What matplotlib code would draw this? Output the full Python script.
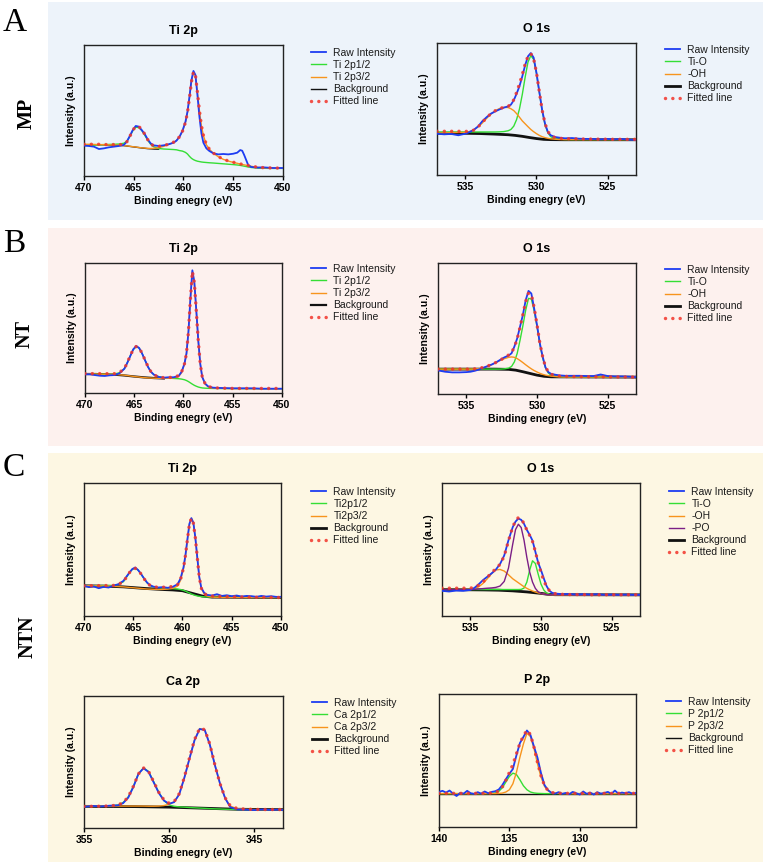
import matplotlib
matplotlib.use("Agg")
import matplotlib.pyplot as plt
from matplotlib.patches import Rectangle

# ---------------- data (binding energy in eV, intensity in a.u.) ----------------
ti_be_a = [470, 469.5, 469, 468.5, 468, 467.5, 467, 466.5, 466,
           465.7, 465.4, 465.1, 464.8, 464.5, 464.2, 463.9, 463.6, 463.3, 463,
           462.5, 462, 461.5, 461,
           460.7, 460.4, 460.1, 459.8, 459.6, 459.4, 459.2, 459.0, 458.8, 458.6, 458.4, 458.2, 458.0,
           457.7, 457.4, 457, 456.5, 456, 455.5, 455,
           454.6, 454.3, 454.1, 453.9, 453.7, 453.5, 453.2,
           452.5, 452, 451, 450]
mp_ti_raw = [23.2, 22.9, 22.4, 20.6, 21.1, 21.9, 22.4, 22.9, 23.7,
             26.2, 30.5, 35.1, 38.2, 37.7, 35.1, 32.1, 28.0, 24.9, 23.4,
             22.9, 23.4, 24.2, 25.4,
             27.0, 30.0, 34.6, 41.5, 49.1, 60.6, 73.3, 80.2, 77.1, 61.8, 45.3, 32.6, 25.4,
             21.1, 19.1, 17.3, 16.5, 16.8, 16.5, 17.0,
             17.8, 19.8, 19.3, 16.0, 12.2, 8.4, 6.9,
             6.4, 6.6, 6.1, 6.1]
mp_ti_fit = [24.2, 24.2, 24.2, 24.2, 24.0, 24.0, 24.0, 23.9, 24.2,
             26.0, 30.0, 35.0, 37.7, 37.9, 35.5, 32.0, 27.8, 24.5, 23.0,
             22.6, 23.2, 24.3, 25.8,
             27.3, 30.0, 34.2, 41.0, 48.5, 59.5, 72.0, 79.5, 77.0, 64.0, 50.0, 38.5, 31.0,
             24.0, 20.5, 17.5, 14.8, 12.8, 11.5, 10.5,
             9.8, 9.2, 8.9, 8.6, 8.3, 8.0, 7.5,
             6.7, 6.4, 6.1, 6.0]
mp_ti_p12 = [23.2, 23.4, 23.6, 23.8, 24.0, 24.1, 24.2, 24.4, 25.0,
             26.5, 30.0, 34.5, 37.2, 37.0, 34.8, 31.2, 27.3, 24.2, 22.3,
             21.0, 20.6, 20.4, 20.2,
             20.0, 19.4, 19.0, 18.0, 16.8, 15.0, 13.5, 12.5, 11.8, 11.3, 11.0, 10.7, 10.5,
             10.3, 10.1, 9.9, 9.6, 9.3, 9.0, 8.7,
             8.4, 8.1, 7.8, 7.5, 7.2, 6.9, 6.5,
             6.0, 5.9, 5.8, 5.8]
mp_ti_p32 = [24.2, 24.2, 24.1, 24.0, 23.9, 23.8, 23.7, 23.5, 23.2,
             23.0, 22.7, 22.4, 22.1, 21.8, 21.5, 21.3, 21.1, 21.0, 21.1,
             21.6, 22.6, 24.0, 25.6,
             27.2, 29.9, 34.1, 40.9, 48.4, 59.4, 71.9, 79.4, 76.9, 63.9, 49.9, 38.4, 30.9,
             23.9, 20.4, 17.4, 14.7, 12.7, 11.4, 10.4,
             9.7, 9.1, 8.8, 8.5, 8.2, 7.9, 7.4,
             6.6, 6.3, 6.0, 5.9]
mp_ti_bg_be = [470, 469, 468, 467, 466, 465.4, 464.8, 464.2, 463.6, 463, 462.5]
mp_ti_bg = [23.9, 23.9, 23.8, 23.6, 23.2, 22.6, 22.0, 21.4, 20.9, 20.6, 20.5]

o_be = [537, 536.5, 536, 535.5, 535,
        534.7, 534.4, 534.1, 533.8, 533.5, 533.2, 532.9, 532.6, 532.3, 532.0,
        531.8, 531.6, 531.4, 531.2, 531.0, 530.8, 530.6, 530.4, 530.2, 530.0, 529.8, 529.6, 529.4, 529.2, 529.0,
        528.7, 528.4,
        528, 527.5, 527, 526.5, 526, 525.5, 525, 524.5, 524, 523.5, 523]
mp_o_raw = [31.3, 30.8, 31.1, 30.1, 31.3,
            32.6, 34.3, 36.9, 40.9, 43.9, 46.5, 48.2, 49.7, 51.0, 52.0,
            53.3, 56.6, 61.6, 67.2, 74.7, 83.1, 89.9, 92.4, 88.9, 77.3, 62.9, 49.0, 38.9, 32.6, 30.1,
            28.8, 28.3,
            27.8, 28.0, 27.5, 27.3, 27.3, 27.0, 27.3, 27.0, 27.3, 26.8, 26.5]
mp_o_fit = [33.1, 33.1, 33.1, 33.1, 33.0,
            33.2, 34.0, 36.5, 40.0, 43.5, 46.5, 48.7, 50.3, 51.3, 52.0,
            53.5, 57.0, 62.5, 69.0, 76.0, 84.0, 90.0, 92.0, 88.0, 77.5, 63.0, 49.0, 39.0, 33.0, 30.0,
            28.3, 27.8,
            27.5, 27.4, 27.3, 27.2, 27.2, 27.1, 27.1, 27.0, 27.0, 27.0, 27.0]
mp_o_tio = [32.6, 32.6, 32.6, 32.6, 32.6,
            32.6, 32.6, 32.6, 32.6, 32.6, 32.6, 32.6, 32.7, 32.9, 33.5,
            34.5, 37.0, 42.0, 50.0, 61.0, 74.0, 85.5, 90.5, 87.5, 77.0, 62.5, 48.5, 38.0, 32.0, 29.0,
            27.6, 27.1,
            26.9, 26.8, 26.8, 26.8, 26.8, 26.8, 26.8, 26.8, 26.8, 26.8, 26.8]
mp_o_oh = [31.8, 31.9, 32.1, 32.2, 32.3,
           33.0, 34.3, 36.5, 39.5, 43.0, 46.2, 48.7, 50.4, 51.3, 51.1,
           50.2, 48.8, 46.5, 43.8, 41.0, 38.8, 36.6, 34.5, 32.8, 31.3, 30.0, 29.0, 28.3, 27.8, 27.4,
           27.1, 26.9,
           26.8, 26.8, 26.8, 26.8, 26.8, 26.8, 26.8, 26.8, 26.8, 26.8, 26.8]
mp_o_bg_be = [537, 535, 534, 533, 532, 531.5, 531, 530.5, 530, 529.5, 529, 528, 523]
mp_o_bg = [31.6, 31.6, 31.4, 31.0, 30.5, 30.0, 29.3, 28.4, 27.6, 27.0, 26.8, 26.7, 26.7]

ti_be_b = [470, 469.5, 469, 468.5, 468, 467.5, 467, 466.5, 466,
           465.7, 465.4, 465.1, 464.8, 464.5, 464.2, 463.9, 463.6, 463.3, 463,
           462.5, 462, 461.5, 461, 460.5,
           460.2, 459.9, 459.7, 459.5, 459.3, 459.1, 458.9, 458.7, 458.5, 458.3, 458.1,
           457.8, 457.5, 457,
           456, 455, 454, 453, 452, 451, 450]
nt_ti_raw = [14.4, 14.4, 13.8, 13.3, 13.1, 13.6, 13.8, 15.1, 18.7,
             23.3, 28.5, 33.6, 36.2, 34.6, 30.3, 25.1, 20.0, 16.2, 14.1,
             12.3, 11.8, 12.1, 12.1, 13.1,
             16.2, 22.6, 30.3, 46.9, 72.6, 94.4, 85.4, 63.6, 40.5, 22.6, 12.3,
             7.2, 5.1, 4.1,
             3.8, 3.6, 3.6, 3.6, 3.3, 3.3, 3.3]
nt_ti_fit = [14.9, 14.9, 14.9, 14.9, 14.9, 14.8, 14.9, 15.8, 18.8,
             23.5, 28.8, 33.6, 35.8, 34.6, 30.5, 25.3, 20.2, 16.3, 13.9,
             12.2, 11.8, 11.9, 12.2, 13.3,
             16.0, 22.5, 30.5, 47.0, 72.0, 93.5, 85.0, 63.0, 40.0, 22.5, 12.5,
             7.0, 5.0, 4.0,
             3.7, 3.5, 3.5, 3.5, 3.5, 3.5, 3.5]
nt_ti_p12 = [14.4, 14.4, 14.4, 14.4, 14.4, 14.4, 14.6, 15.6, 18.7,
             23.4, 28.7, 33.5, 35.7, 34.5, 30.4, 25.2, 20.1, 16.3, 14.0,
             12.5, 11.8, 11.4, 11.2, 11.0,
             10.7, 10.2, 9.6, 8.8, 7.8, 6.8, 5.9, 5.2, 4.6, 4.2, 3.9,
             3.7, 3.6, 3.5,
             3.4, 3.4, 3.4, 3.3, 3.3, 3.3, 3.3]
nt_ti_p32 = [14.6, 14.6, 14.6, 14.5, 14.5, 14.4, 14.3, 14.0, 13.7,
             13.4, 13.1, 12.8, 12.5, 12.3, 12.0, 11.8, 11.6, 11.5, 11.4,
             11.3, 11.3, 11.4, 11.6, 12.6,
             15.5, 22.2, 30.2, 46.8, 71.8, 93.3, 84.8, 62.8, 39.8, 22.3, 12.3,
             6.8, 4.8, 3.8,
             3.6, 3.4, 3.4, 3.4, 3.3, 3.3, 3.3]
nt_ti_bg_be = [470, 469, 468, 467, 466, 465, 464, 463, 462]
nt_ti_bg = [14.6, 14.6, 14.4, 14.1, 13.5, 12.7, 12.0, 11.5, 11.2]

nt_o_raw = [18.0, 17.0, 16.5, 16.5, 16.7,
            17.0, 17.7, 18.7, 20.0, 21.3, 22.5, 24.1, 26.1, 28.0, 29.4,
            31.1, 36.2, 42.5, 51.4, 60.3, 71.6, 78.7, 76.7, 65.3, 52.7, 38.7, 28.6, 20.3, 16.7, 15.4,
            14.7, 14.2,
            13.9, 13.9, 13.9, 13.7, 13.7, 14.9, 13.7, 13.4, 13.4, 13.2, 12.9]
nt_o_fit = [19.0, 19.0, 19.0, 19.0, 19.0,
            19.0, 19.2, 19.6, 20.3, 21.3, 22.6, 24.1, 25.8, 27.8, 29.8,
            31.5, 36.0, 42.0, 51.0, 60.5, 70.5, 77.0, 76.0, 66.0, 53.0, 39.0, 28.5, 20.8, 16.8, 15.0,
            14.2, 13.7,
            13.4, 13.3, 13.2, 13.2, 13.1, 13.1, 13.0, 13.0, 13.0, 12.9, 12.9]
nt_o_tio = [19.0, 19.0, 19.0, 19.0, 19.0,
            19.0, 19.0, 19.0, 19.0, 19.0, 19.0, 19.0, 19.0, 19.2, 19.8,
            21.0, 24.5, 31.0, 41.0, 52.0, 64.0, 73.0, 72.5, 63.5, 51.5, 38.0, 27.5, 20.0, 16.0, 14.3,
            13.5, 13.2,
            13.1, 13.0, 13.0, 13.0, 13.0, 13.0, 13.0, 13.0, 12.9, 12.9, 12.9]
nt_o_oh = [19.0, 19.0, 19.0, 19.0, 19.0,
           19.0, 19.1, 19.4, 20.0, 21.0, 22.4, 24.0, 25.6, 27.0, 28.0,
           28.3, 28.0, 27.0, 25.6, 24.0, 22.3, 20.7, 19.2, 17.9, 16.8, 15.8, 15.0, 14.4, 14.0, 13.6,
           13.3, 13.1,
           13.0, 13.0, 13.0, 13.0, 13.0, 13.0, 13.0, 13.0, 12.9, 12.9, 12.9]
nt_o_bg_be = [537, 533, 532, 531.5, 531, 530.5, 530, 529.5, 529, 523]
nt_o_bg = [19.0, 19.0, 18.8, 18.2, 17.0, 15.7, 14.4, 13.5, 13.1, 12.9]

ti_be_c = [470, 469.5, 469, 468.5, 468, 467.5, 467, 466.5, 466,
           465.7, 465.4, 465.1, 464.8, 464.5, 464.2, 463.9, 463.6, 463.3, 463,
           462.5, 462, 461.5, 461, 460.5,
           460.2, 459.9, 459.7, 459.5, 459.3, 459.1, 458.9, 458.7, 458.5, 458.3, 458.1,
           457.8, 457.5, 457,
           456.5, 456, 455.5, 455, 454.5, 454, 453.5, 453, 452.5, 452, 451.5, 451, 450.5, 450]
ntn_ti_raw = [22.7, 21.7, 22.2, 20.9, 21.9, 21.4, 22.9, 23.9, 26.4,
              29.5, 32.5, 35.3, 36.5, 34.5, 31.5, 28.2, 25.2, 23.2, 22.2,
              21.4, 21.7, 21.2, 21.9, 23.9,
              28.2, 36.5, 45.8, 57.7, 69.3, 73.6, 70.3, 59.2, 44.1, 29.5, 21.4,
              17.4, 15.9, 15.4,
              16.4, 15.1, 15.6, 14.9, 15.4, 14.6, 15.1, 14.9, 14.4, 15.1, 14.6, 14.9, 14.4, 14.4]
ntn_ti_fit = [22.7, 22.7, 22.8, 22.8, 22.9, 22.9, 23.0, 23.8, 25.8,
              29.0, 32.5, 35.0, 35.8, 34.5, 31.5, 28.0, 25.0, 23.0, 22.0,
              21.6, 21.6, 21.8, 22.2, 23.5,
              27.5, 36.0, 45.5, 57.5, 69.0, 73.5, 70.0, 59.0, 44.0, 29.5, 21.0,
              17.0, 15.5, 15.0,
              14.8, 14.6, 14.5, 14.4, 14.3, 14.3, 14.2, 14.2, 14.1, 14.1, 14.0, 14.0, 13.9, 13.9]
ntn_ti_p12 = [22.7, 22.7, 22.8, 22.8, 22.9, 22.9, 23.0, 23.8, 25.8,
              29.0, 32.5, 35.0, 35.8, 34.5, 31.5, 28.0, 25.0, 23.0, 22.0,
              21.3, 21.0, 20.8, 20.6, 20.3,
              19.9, 19.3, 18.7, 18.0, 17.3, 16.6, 16.0, 15.5, 15.1, 14.8, 14.6,
              14.4, 14.3, 14.2,
              14.1, 14.1, 14.1, 14.1, 14.0, 14.0, 14.0, 14.0, 14.0, 14.0, 13.9, 13.9, 13.9, 13.9]
ntn_ti_p32 = [22.7, 22.7, 22.6, 22.6, 22.5, 22.4, 22.3, 22.1, 21.9,
              21.7, 21.5, 21.3, 21.1, 20.9, 20.7, 20.5, 20.3, 20.2, 20.1,
              20.0, 20.0, 20.2, 20.8, 22.5,
              26.8, 35.5, 45.2, 57.3, 68.8, 73.3, 69.8, 58.8, 43.8, 29.3, 20.8,
              16.6, 15.0, 14.3,
              14.1, 14.0, 14.0, 14.0, 14.0, 14.0, 13.9, 13.9, 13.9, 13.9, 13.9, 13.9, 13.9, 13.9]
ntn_ti_bg_be = [470, 468, 466, 464, 462, 461, 460, 459, 458, 457, 450]
ntn_ti_bg = [22.7, 22.5, 21.9, 20.8, 19.9, 19.6, 19.0, 17.0, 15.0, 14.2, 13.9]

ntn_o_raw = [18.9, 18.4, 19.1, 18.9, 19.6,
             21.2, 23.9, 27.0, 29.5, 32.0, 34.8, 39.0, 45.5, 57.0, 66.8,
             71.0, 73.3, 72.3, 69.3, 64.7, 61.0, 56.7, 48.4, 40.1, 34.5, 28.2, 22.4, 18.9, 17.4, 16.9,
             16.6, 16.4,
             16.6, 16.1, 16.4, 16.1, 16.4, 15.9, 16.1, 15.9, 16.1, 15.9, 15.9]
ntn_o_fit = [20.9, 20.9, 20.9, 20.9, 20.9,
             21.6, 23.2, 25.5, 29.0, 32.5, 35.5, 38.8, 45.0, 56.5, 67.0,
             71.5, 74.0, 73.0, 69.5, 64.5, 60.5, 56.0, 48.5, 40.0, 32.5, 26.5, 22.0, 19.0, 17.5, 16.8,
             16.4, 16.2,
             16.1, 16.1, 16.1, 16.0, 16.0, 16.0, 16.0, 16.0, 16.0, 16.0, 16.0]
ntn_o_tio = [19.9, 19.9, 19.9, 19.9, 19.9,
             19.9, 19.9, 19.9, 19.9, 19.9, 19.9, 19.9, 19.9, 19.9, 19.9,
             19.9, 19.9, 20.0, 21.0, 25.5, 34.5, 41.5, 39.5, 31.5, 24.0, 19.5, 17.3, 16.4, 16.0, 15.9,
             15.9, 15.9,
             15.9, 15.9, 15.9, 15.9, 15.9, 15.9, 15.9, 15.9, 15.9, 15.9, 15.9]
ntn_o_oh = [19.9, 19.9, 19.9, 19.9, 20.0,
            20.6, 22.0, 24.5, 28.0, 31.8, 34.6, 35.0, 33.8, 31.0, 28.0,
            26.5, 25.0, 23.5, 22.0, 20.8, 19.7, 18.8, 18.0, 17.4, 16.9, 16.5, 16.2, 16.0, 15.9, 15.9,
            15.9, 15.9,
            15.9, 15.9, 15.9, 15.9, 15.9, 15.9, 15.9, 15.9, 15.9, 15.9, 15.9]
ntn_o_po = [19.9, 19.9, 19.9, 19.9, 19.9,
            20.0, 20.3, 20.6, 20.9, 21.1, 21.5, 22.5, 26.0, 36.0, 54.0,
            65.0, 69.0, 66.5, 57.0, 44.0, 33.0, 25.5, 20.8, 18.2, 17.0, 16.4, 16.1, 16.0, 15.9, 15.9,
            15.9, 15.9,
            15.9, 15.9, 15.9, 15.9, 15.9, 15.9, 15.9, 15.9, 15.9, 15.9, 15.9]
ntn_o_bg_be = [537, 534, 533, 532, 531, 530, 529.5, 529, 523]
ntn_o_bg = [19.9, 19.6, 19.4, 18.9, 18.1, 17.0, 16.3, 16.0, 15.9]

ca_be = [355, 354.5, 354, 353.5, 353,
         352.7, 352.4, 352.1, 351.8, 351.5, 351.2, 350.9, 350.6, 350.3, 350.0, 349.7,
         349.4, 349.1, 348.8, 348.5, 348.2, 347.9, 347.6, 347.3, 347.0, 346.7, 346.4,
         346.0, 345.5, 345, 344.5, 344, 343.5, 343.3]
ca_raw = [16.1, 16.7, 16.4, 16.9, 17.2,
          18.8, 23.0, 31.0, 41.0, 45.3, 42.4, 34.5, 26.5, 20.8, 18.3, 19.6,
          25.5, 38.0, 52.5, 66.5, 75.0, 74.2, 63.0, 47.5, 33.5, 22.5, 15.8,
          14.1, 13.9, 13.6, 14.0, 13.7, 13.9, 13.6]
ca_fit = [16.4, 16.4, 16.5, 16.7, 17.4,
          19.3, 23.5, 31.5, 41.0, 45.5, 42.8, 35.0, 27.0, 21.3, 18.8, 20.0,
          26.0, 38.5, 53.0, 67.0, 75.5, 74.5, 63.5, 47.5, 33.5, 22.8, 16.8,
          14.8, 14.3, 14.1, 14.0, 14.0, 14.0, 14.0]
ca_p12 = [16.4, 16.4, 16.5, 16.7, 17.4,
          19.3, 23.5, 31.5, 41.0, 45.5, 42.8, 35.0, 27.0, 20.8, 17.5, 16.4,
          16.0, 15.8, 15.5, 15.3, 15.1, 14.9, 14.7, 14.5, 14.4, 14.2, 14.1,
          14.0, 13.9, 13.9, 13.9, 13.9, 13.9, 13.9]
ca_p32 = [16.6, 16.6, 16.6, 16.6, 16.6,
          16.6, 16.6, 16.6, 16.6, 16.6, 16.5, 16.5, 16.6, 17.0, 18.0, 19.8,
          25.8, 38.3, 52.8, 66.8, 75.3, 74.3, 63.3, 47.3, 33.3, 22.6, 16.6,
          14.6, 14.2, 14.0, 13.9, 13.9, 13.9, 13.9]
ca_bg_be = [355, 352, 350, 348, 346, 343.3]
ca_bg = [16.4, 16.2, 15.8, 15.0, 14.2, 13.9]

p_raw_be = [140.0, 139.75, 139.5, 139.25, 139.0, 138.75, 138.5, 138.25, 138.0, 137.75, 137.5,
            137.25, 137.0, 136.75, 136.5, 136.25, 136.0,
            135.75, 135.5, 135.25, 135.0, 134.75, 134.5, 134.25, 134.0, 133.75, 133.5, 133.25,
            133.0, 132.75, 132.5, 132.25, 132.0,
            131.75, 131.5, 131.25, 131.0, 130.75, 130.5, 130.25, 130.0, 129.75, 129.5, 129.25,
            129.0, 128.75, 128.5, 128.25, 128.0, 127.75, 127.5, 127.25, 127.0, 126.75, 126.5,
            126.25, 126.0]
p_raw = [26.4, 27.2, 25.9, 27.4, 25.1, 23.3, 25.6, 25.1, 27.2, 25.4, 24.9, 26.2, 25.1, 26.7,
         25.4, 26.4, 26.9,
         28.2, 31.5, 35.9, 40.0, 43.6, 53.8, 63.1, 67.7, 72.6, 69.2, 60.5, 52.1, 40.5, 31.5,
         27.7, 25.6,
         25.1, 26.2, 24.9, 25.6, 24.6, 26.4, 25.4, 24.4, 26.7, 24.9, 25.9, 24.4, 26.2, 25.1,
         25.6, 26.4, 24.9, 27.4, 25.1, 25.9, 25.4, 26.2, 25.1, 25.6]
p_be = [140, 139, 138, 137, 136.5, 136,
        135.75, 135.5, 135.25, 135.0, 134.75, 134.5, 134.25, 134.0, 133.75, 133.5, 133.25,
        133.0, 132.75, 132.5, 132.25, 132.0,
        131.5, 131, 130, 129, 128, 127, 126]
p_fit = [25.3, 25.3, 25.3, 25.3, 25.4, 25.8,
         27.1, 30.0, 35.1, 41.0, 47.0, 55.0, 63.0, 68.5, 72.8, 69.5, 60.0,
         48.5, 38.5, 31.0, 27.3, 25.9,
         25.4, 25.3, 25.3, 25.3, 25.3, 25.3, 25.3]
p_p12 = [25.1, 25.1, 25.1, 25.1, 25.2, 25.6,
         26.8, 29.5, 33.8, 38.0, 40.5, 39.5, 35.5, 31.0, 28.0, 26.3, 25.6,
         25.3, 25.2, 25.1, 25.1, 25.1,
         25.1, 25.1, 25.1, 25.1, 25.1, 25.1, 25.1]
p_p32 = [25.1, 25.1, 25.1, 25.1, 25.1, 25.1,
         25.2, 25.5, 26.3, 28.0, 32.5, 41.0, 52.5, 62.5, 70.5, 68.0, 59.0,
         47.5, 37.5, 30.5, 27.2, 25.9,
         25.3, 25.1, 25.1, 25.1, 25.1, 25.1, 25.1]
p_bg_be = [140, 126]
p_bg = [25.1, 25.1]

# ---------------- figure ----------------
plt.rcParams['font.family'] = ['Liberation Sans', 'DejaVu Sans']
W, H = 765, 865
fig = plt.figure(figsize=(W / 100, H / 100), dpi=100)

BLUE = '#1d3cf2'
GREEN = '#35de35'
ORANGE = '#f7941d'
PURPLE = '#7b1f86'
RED = '#f2352b'


def px_rect(x0, y0, x1, y1):
    # pixel box measured from the top-left corner -> figure fraction
    return [x0 / W, 1 - y1 / H, (x1 - x0) / W, (y1 - y0) / H]


# coloured panel backgrounds
for y0, y1, col in [(2, 220, '#edf3fa'), (228, 446, '#fdf1ee'), (453, 862, '#fdf7e3')]:
    r = px_rect(48, y0, 763, y1)
    fig.patches.append(Rectangle((r[0], r[1]), r[2], r[3], transform=fig.transFigure,
                                 facecolor=col, edgecolor='none', zorder=-10))


def spectrum(box, title, xlim, ticks, raw, fit, comps, bg, legend_xy, bg_lw=1.0):
    ax = fig.add_axes(px_rect(*box))
    ax.set_facecolor('none')
    hb, = ax.plot(bg[0], bg[1], color='#111111', lw=bg_lw, zorder=1)
    hc = []
    for x, y, lab, col in comps:
        h, = ax.plot(x, y, color=col, lw=1.0, zorder=2, label=lab)
        hc.append(h)
    hr, = ax.plot(raw[0], raw[1], color=BLUE, lw=1.3, zorder=3)
    hf, = ax.plot(fit[0], fit[1], color=RED, lw=2.5, ls=(0, (0.01, 2.1)),
                  dash_capstyle='round', zorder=4, alpha=0.85)
    ax.set_xlim(*xlim)
    ax.set_ylim(0, 100)
    ax.set_xticks(ticks)
    ax.set_yticks([])
    ax.tick_params(axis='x', direction='out', length=3, width=1, pad=2, labelsize=7.5)
    for lab in ax.get_xticklabels():
        lab.set_fontweight('bold')
    for s in ax.spines.values():
        s.set_linewidth(1.0)
        s.set_color('#222222')
    ax.set_title(title, fontsize=9, fontweight='bold', pad=8)
    ax.set_xlabel('Binding enegry (eV)', fontsize=7.5, fontweight='bold', labelpad=2)
    ax.set_ylabel('Intensity (a.u.)', fontsize=7.5, fontweight='bold', labelpad=6)
    handles = [hr] + hc + [hb, hf]
    labels = ['Raw Intensity'] + [c[2] for c in comps] + ['Background', 'Fitted line']
    leg = ax.legend(handles, labels, loc='upper left',
                    bbox_to_anchor=(legend_xy[0] / W, 1 - legend_xy[1] / H),
                    bbox_transform=fig.transFigure, frameon=False, fontsize=7.5,
                    handlelength=1.4, handletextpad=0.75, labelspacing=0.2,
                    borderpad=0, borderaxespad=0)
    for t in leg.get_texts():
        t.set_color('#1a1a1a')
    return ax


TI_TICKS = [470, 465, 460, 455, 450]
O_TICKS = [535, 530, 525]

# A: MP
spectrum((84, 45, 283, 176), 'Ti 2p', (470, 450), TI_TICKS,
         (ti_be_a, mp_ti_raw), (ti_be_a, mp_ti_fit),
         [(ti_be_a, mp_ti_p12, 'Ti 2p1/2', GREEN), (ti_be_a, mp_ti_p32, 'Ti 2p3/2', ORANGE)],
         (mp_ti_bg_be, mp_ti_bg), (311, 48), bg_lw=1.0)
spectrum((437, 43, 636, 175), 'O 1s', (537, 523), O_TICKS,
         (o_be, mp_o_raw), (o_be, mp_o_fit),
         [(o_be, mp_o_tio, 'Ti-O', GREEN), (o_be, mp_o_oh, '-OH', ORANGE)],
         (mp_o_bg_be, mp_o_bg), (665, 45), bg_lw=2.0)

# B: NT
spectrum((85, 263, 282, 393), 'Ti 2p', (470, 450), TI_TICKS,
         (ti_be_b, nt_ti_raw), (ti_be_b, nt_ti_fit),
         [(ti_be_b, nt_ti_p12, 'Ti 2p1/2', GREEN), (ti_be_b, nt_ti_p32, 'Ti 2p3/2', ORANGE)],
         (nt_ti_bg_be, nt_ti_bg), (311, 264), bg_lw=1.6)
spectrum((438, 263, 636, 394), 'O 1s', (537, 523), O_TICKS,
         (o_be, nt_o_raw), (o_be, nt_o_fit),
         [(o_be, nt_o_tio, 'Ti-O', GREEN), (o_be, nt_o_oh, '-OH', ORANGE)],
         (nt_o_bg_be, nt_o_bg), (665, 265), bg_lw=2.0)

# C: NTN
spectrum((84, 483, 281, 616), 'Ti 2p', (470, 450), TI_TICKS,
         (ti_be_c, ntn_ti_raw), (ti_be_c, ntn_ti_fit),
         [(ti_be_c, ntn_ti_p12, 'Ti2p1/2', GREEN), (ti_be_c, ntn_ti_p32, 'Ti2p3/2', ORANGE)],
         (ntn_ti_bg_be, ntn_ti_bg), (311, 487), bg_lw=2.0)
spectrum((442, 483, 640, 616), 'O 1s', (537, 523), O_TICKS,
         (o_be, ntn_o_raw), (o_be, ntn_o_fit),
         [(o_be, ntn_o_tio, 'Ti-O', GREEN), (o_be, ntn_o_oh, '-OH', ORANGE),
          (o_be, ntn_o_po, '-PO', PURPLE)],
         (ntn_o_bg_be, ntn_o_bg), (669, 487), bg_lw=2.0)
spectrum((84, 696, 283, 828), 'Ca 2p', (355, 343.3), [355, 350, 345],
         (ca_be, ca_raw), (ca_be, ca_fit),
         [(ca_be, ca_p12, 'Ca 2p1/2', GREEN), (ca_be, ca_p32, 'Ca 2p3/2', ORANGE)],
         (ca_bg_be, ca_bg), (312, 698), bg_lw=2.0)
spectrum((439, 694, 636, 827), 'P 2p', (140, 126), [140, 135, 130],
         (p_raw_be, p_raw), (p_be, p_fit),
         [(p_be, p_p12, 'P 2p1/2', GREEN), (p_be, p_p32, 'P 2p3/2', ORANGE)],
         (p_bg_be, p_bg), (666, 697), bg_lw=1.0)

# panel letters and sample names
serif = ['Liberation Serif', 'DejaVu Serif']
for letter, ybase in [('A', 31), ('B', 252), ('C', 476)]:
    fig.text(3 / W, 1 - ybase / H, letter, fontsize=24, family=serif,
             ha='left', va='baseline')
for name, xc, yc in [('MP', 27, 113), ('NT', 25, 334), ('NTN', 28, 637)]:
    fig.text(xc / W, 1 - yc / H, name, fontsize=14.5, fontweight='bold', family=serif,
             rotation=90, ha='center', va='center')

fig.savefig('out.png', dpi=100)
